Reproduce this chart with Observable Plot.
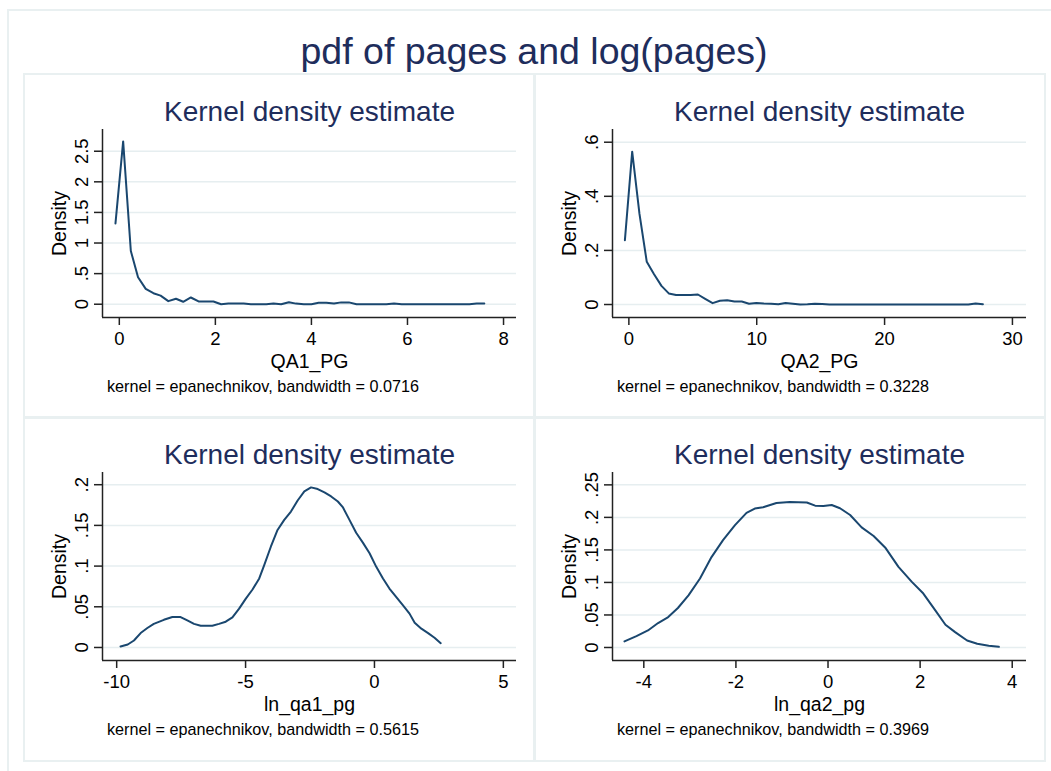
<!DOCTYPE html>
<html><head><meta charset="utf-8">
<script src="https://cdn.jsdelivr.net/npm/d3@7"></script>
<script src="https://cdn.jsdelivr.net/npm/@observablehq/plot@0.6"></script>
<style>
html,body{margin:0;padding:0;background:#fff;}
#wrap{position:relative;width:1051px;height:771px;overflow:hidden;font-family:"Liberation Sans",Arial,sans-serif;background:#fff;}
#outer{position:absolute;left:7px;top:9px;width:1100px;height:800px;border-left:2px solid #e9f0f1;border-top:2px solid #e9f0f1;}
#title{position:absolute;left:24px;width:1020px;top:33px;line-height:37px;text-align:center;font-size:37.5px;color:#1e2d5c;white-space:nowrap;}
.panel{position:absolute;width:510px;height:343px;}
.panel svg{display:block;}
.box{position:absolute;box-sizing:border-box;border:2px solid #e9f0f1;}
</style></head>
<body>
<div id="wrap">
  <div id="outer"></div>
  <div id="title">pdf of pages and log(pages)</div>
  <div class="box" style="left:23px;top:73px;width:513px;height:346px"></div>
  <div class="box" style="left:533px;top:73px;width:513px;height:346px"></div>
  <div class="box" style="left:23px;top:416px;width:513px;height:346px"></div>
  <div class="box" style="left:533px;top:416px;width:513px;height:346px"></div>
  <div class="panel" id="p1" style="left:24px;top:74px"></div>
  <div class="panel" id="p2" style="left:534px;top:74px"></div>
  <div class="panel" id="p3" style="left:24px;top:417px"></div>
  <div class="panel" id="p4" style="left:534px;top:417px"></div>
</div>
<script>
// ---------- data ----------
const panelTitle = "Kernel density estimate";
const yLabel = "Density";

// Panel 1: QA1_PG
const qa1X = [-0.08, 0.08, 0.24, 0.39, 0.55, 0.71, 0.86, 1.02, 1.18, 1.33, 1.49, 1.65, 1.80, 1.96, 2.12, 2.27, 2.43, 2.59, 2.74, 2.90, 3.06, 3.21, 3.37, 3.53, 3.68, 3.84, 4.00, 4.15, 4.31, 4.47, 4.62, 4.78, 4.94, 5.09, 5.25, 5.41, 5.56, 5.72, 5.88, 6.03, 6.19, 6.35, 6.50, 6.66, 6.82, 6.97, 7.13, 7.29, 7.44, 7.60];
const qa1Y = [1.32, 2.66, 0.87, 0.44, 0.25, 0.18, 0.14, 0.05, 0.09, 0.04, 0.11, 0.045, 0.045, 0.045, 0.0, 0.01, 0.01, 0.01, 0.0, 0.0, 0.0, 0.01, 0.0, 0.033, 0.01, 0.0, 0.0, 0.025, 0.025, 0.01, 0.03, 0.03, 0.0, 0.0, 0.0, 0.0, 0.0, 0.01, 0.0, 0.0, 0.0, 0.0, 0.0, 0.0, 0.0, 0.0, 0.0, 0.0, 0.01, 0.01];
const qa1XTicks = [0, 2, 4, 6, 8];
const qa1XTickLabels = ["0", "2", "4", "6", "8"];
const qa1YTicks = [0, 0.5, 1, 1.5, 2, 2.5];
const qa1YTickLabels = ["0", ".5", "1", "1.5", "2", "2.5"];

// Panel 2: QA2_PG
const qa2X = [-0.31, 0.26, 0.83, 1.40, 1.97, 2.55, 3.12, 3.69, 4.26, 4.83, 5.40, 5.97, 6.55, 7.12, 7.69, 8.26, 8.83, 9.40, 9.97, 10.55, 11.12, 11.69, 12.26, 12.83, 13.40, 13.97, 14.55, 15.12, 15.69, 16.26, 16.83, 17.40, 17.98, 18.55, 19.12, 19.69, 20.26, 20.83, 21.40, 21.98, 22.55, 23.12, 23.69, 24.26, 24.83, 25.40, 25.98, 26.55, 27.12, 27.69];
const qa2Y = [0.238, 0.565, 0.335, 0.158, 0.112, 0.069, 0.041, 0.035, 0.035, 0.035, 0.037, 0.021, 0.005, 0.014, 0.016, 0.011, 0.011, 0.003, 0.006, 0.004, 0.003, 0.001, 0.006, 0.003, 0.0, 0.001, 0.003, 0.002, 0.0, 0.0, 0.0, 0.0, 0.0, 0.0, 0.0, 0.0, 0.0, 0.0, 0.0, 0.0, 0.0, 0.0, 0.0, 0.0, 0.0, 0.0, 0.0, 0.0, 0.004, 0.001];
const qa2XTicks = [0, 10, 20, 30];
const qa2XTickLabels = ["0", "10", "20", "30"];
const qa2YTicks = [0, 0.2, 0.4, 0.6];
const qa2YTickLabels = ["0", ".2", ".4", ".6"];

// Panel 3: ln_qa1_pg
const ln1X = [-9.85, -9.57, -9.33, -9.07, -8.81, -8.56, -8.17, -7.84, -7.52, -7.26, -7.00, -6.74, -6.29, -6.03, -5.77, -5.51, -5.25, -4.99, -4.73, -4.47, -4.28, -4.02, -3.76, -3.50, -3.24, -2.98, -2.72, -2.46, -2.20, -1.94, -1.68, -1.42, -1.23, -0.97, -0.71, -0.45, -0.19, 0.07, 0.33, 0.58, 0.84, 1.10, 1.36, 1.56, 1.82, 2.08, 2.33, 2.57];
const ln1Y = [0.0012, 0.0037, 0.0086, 0.0177, 0.0239, 0.029, 0.034, 0.0374, 0.0374, 0.0333, 0.029, 0.0268, 0.0268, 0.029, 0.0317, 0.037, 0.0477, 0.060, 0.0712, 0.0848, 0.101, 0.1238, 0.1444, 0.1568, 0.167, 0.1806, 0.1917, 0.1967, 0.1947, 0.1905, 0.1856, 0.1794, 0.1725, 0.1568, 0.141, 0.1288, 0.1157, 0.0991, 0.0848, 0.0724, 0.0621, 0.0519, 0.0416, 0.0305, 0.0231, 0.0177, 0.012, 0.0053];
const ln1XTicks = [-10, -5, 0, 5];
const ln1XTickLabels = ["-10", "-5", "0", "5"];
const ln1YTicks = [0, 0.05, 0.1, 0.15, 0.2];
const ln1YTickLabels = ["0", ".05", ".1", ".15", ".2"];

// Panel 4: ln_qa2_pg
const ln2X = [-4.42, -4.16, -3.91, -3.69, -3.47, -3.26, -3.03, -2.78, -2.53, -2.28, -2.02, -1.77, -1.59, -1.41, -1.12, -0.83, -0.46, -0.28, -0.10, 0.08, 0.26, 0.48, 0.73, 0.99, 1.24, 1.53, 1.82, 2.07, 2.33, 2.55, 2.76, 3.02, 3.24, 3.49, 3.71];
const ln2Y = [0.0093, 0.0175, 0.0262, 0.0376, 0.0468, 0.0607, 0.0802, 0.106, 0.139, 0.165, 0.188, 0.207, 0.2135, 0.2156, 0.222, 0.2238, 0.2228, 0.218, 0.2176, 0.2191, 0.214, 0.2037, 0.1847, 0.1713, 0.1538, 0.124, 0.1008, 0.0829, 0.0571, 0.035, 0.0236, 0.0108, 0.0057, 0.0026, 0.001];
const ln2XTicks = [-4, -2, 0, 2, 4];
const ln2XTickLabels = ["-4", "-2", "0", "2", "4"];
const ln2YTicks = [0, 0.05, 0.1, 0.15, 0.2, 0.25];
const ln2YTickLabels = ["0", ".05", ".1", ".15", ".2", ".25"];

const xLabels = ["QA1_PG", "QA2_PG", "ln_qa1_pg", "ln_qa2_pg"];
const notes = [
  "kernel = epanechnikov, bandwidth = 0.0716",
  "kernel = epanechnikov, bandwidth = 0.3228",
  "kernel = epanechnikov, bandwidth = 0.5615",
  "kernel = epanechnikov, bandwidth = 0.3969"
];

// ---------- style ----------
const FONT = '"Liberation Sans", Arial, sans-serif';
const LINE = "#1a476f";
const TITLE_C = "#1e2d5c";
const GRID = "#e6eef0";
const AXIS = "#222";

function panel({xs, ys, xDomain, yDomain, xTicks, xTickLabels, yTicks, yTickLabels, xLabel, note}) {
  const data = xs.map((x, i) => ({x, y: ys[i]}));
  const xfmt = d => xTickLabels[xTicks.indexOf(d)];
  const yfmt = d => yTickLabels[yTicks.indexOf(d)];
  return Plot.plot({
    width: 510, height: 343,
    marginLeft: 78, marginRight: 18, marginTop: 55, marginBottom: 100,
    style: {fontFamily: FONT, background: "transparent", overflow: "visible"},
    x: {domain: xDomain},
    y: {domain: yDomain},
    marks: [
      Plot.gridY(yTicks, {stroke: GRID, strokeOpacity: 1, strokeWidth: 1.5}),
      Plot.ruleX([xDomain[0]], {stroke: AXIS, strokeWidth: 1.5}),
      Plot.ruleY([yDomain[0]], {stroke: AXIS, strokeWidth: 1.5}),
      Plot.axisX(xTicks, {tickSize: 8, tickPadding: 6.5, tickFormat: xfmt, fontSize: 18.5, label: null, stroke: AXIS, strokeWidth: 1.5, fill: "#000"}),
      Plot.axisY(yTicks, {tickSize: 8, fill: "none", stroke: AXIS, strokeWidth: 1.5, label: null}),
      Plot.text(yTicks, {y: d => d, text: yfmt, frameAnchor: "left", rotate: -90, textAnchor: "middle", lineAnchor: "bottom", dx: -15, fontSize: 18.5, fill: "#000"}),
      Plot.line(data, {x: "x", y: "y", stroke: LINE, strokeWidth: 2}),
      Plot.text([panelTitle], {frameAnchor: "top", lineAnchor: "bottom", dy: -9, fontSize: 28, fill: TITLE_C}),
      Plot.text([xLabel], {frameAnchor: "bottom", lineAnchor: "bottom", dy: 50.5, fontSize: 19.5, fill: "#000"}),
      Plot.text([yLabel], {frameAnchor: "left", rotate: -90, textAnchor: "middle", lineAnchor: "bottom", dx: -37, fontSize: 19.5, fill: "#000"}),
      Plot.text([note], {frameAnchor: "bottom-left", textAnchor: "start", lineAnchor: "bottom", dx: 4.5, dy: 74.5, fontSize: 16.2, fill: "#000"})
    ]
  });
}

document.getElementById("p1").append(panel({xs: qa1X, ys: qa1Y, xDomain: [-0.35, 8.27], yDomain: [-0.217, 2.855], xTicks: qa1XTicks, xTickLabels: qa1XTickLabels, yTicks: qa1YTicks, yTickLabels: qa1YTickLabels, xLabel: xLabels[0], note: notes[0]}));
document.getElementById("p2").append(panel({xs: qa2X, ys: qa2Y, xDomain: [-1.28, 31.1], yDomain: [-0.048, 0.647], xTicks: qa2XTicks, xTickLabels: qa2XTickLabels, yTicks: qa2YTicks, yTickLabels: qa2YTickLabels, xLabel: xLabels[1], note: notes[1]}));
document.getElementById("p3").append(panel({xs: ln1X, ys: ln1Y, xDomain: [-10.55, 5.51], yDomain: [-0.016, 0.215], xTicks: ln1XTicks, xTickLabels: ln1XTickLabels, yTicks: ln1YTicks, yTickLabels: ln1YTickLabels, xLabel: xLabels[2], note: notes[2]}));
document.getElementById("p4").append(panel({xs: ln2X, ys: ln2Y, xDomain: [-4.68, 4.31], yDomain: [-0.020, 0.269], xTicks: ln2XTicks, xTickLabels: ln2XTickLabels, yTicks: ln2YTicks, yTickLabels: ln2YTickLabels, xLabel: xLabels[3], note: notes[3]}));
</script>
</body></html>
